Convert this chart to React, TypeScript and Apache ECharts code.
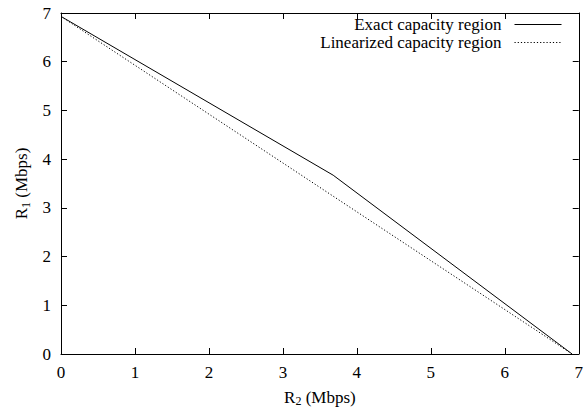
import React, { useEffect, useRef } from "react";
import * as echarts from "echarts";

const exactX = [0, 3.68, 6.91];
const exactY = [6.93, 3.67, 0];
const linX = [0, 6.91];
const linY = [6.93, 0];
const seriesNames = ["Exact capacity region", "Linearized capacity region"];

const FONT = "Liberation Serif";

export default function App() {
  const ref = useRef<HTMLDivElement>(null);
  useEffect(() => {
    const chart = echarts.init(ref.current!, null, { renderer: "svg" });
    const axisCommon = {
      type: "value",
      min: 0,
      max: 7,
      interval: 1,
      axisLine: { show: true, onZero: false, lineStyle: { color: "#000", width: 1 } },
      axisTick: { show: true, inside: true, length: 6, lineStyle: { color: "#000" } },
      splitLine: { show: false },
    };
    const rich = {
      n: { fontFamily: FONT, fontSize: 17, color: "#000", lineHeight: 20 },
      s: { fontFamily: FONT, fontSize: 12, color: "#000", lineHeight: 9, verticalAlign: "bottom" },
    };
    chart.setOption({
      animation: false,
      grid: { left: 61, right: 2, top: 13, bottom: 59, containLabel: false },
      legend: {
        orient: "vertical",
        right: 24,
        top: 16,
        padding: 0,
        align: "right",
        itemWidth: 47,
        itemHeight: 10,
        itemGap: 1,
        lineStyle: { width: 1 },
        itemStyle: { opacity: 0 },
        textStyle: { fontFamily: FONT, fontSize: 17, lineHeight: 17, color: "#000", padding: [0, 8, 0, 0] },
        data: seriesNames.map((n) => ({ name: n, itemStyle: { opacity: 0 } })),
      },
      xAxis: [
        {
          ...axisCommon,
          position: "bottom",
          axisLabel: { fontFamily: FONT, fontSize: 17, color: "#000", margin: 10 },
          name: "{n|R}{s|2}{n| (Mbps)}",
          nameLocation: "middle",
          nameGap: 33,
          nameTextStyle: { rich },
        },
        {
          ...axisCommon,
          position: "top",
          axisLabel: { show: false },
        },
      ],
      yAxis: [
        {
          ...axisCommon,
          position: "left",
          axisLabel: { fontFamily: FONT, fontSize: 17, color: "#000", margin: 10 },
          name: "{n|R}{s|1}{n| (Mbps)}",
          nameLocation: "middle",
          nameGap: 24,
          nameRotate: 90,
          nameTextStyle: { rich },
        },
        {
          ...axisCommon,
          position: "right",
          axisLabel: { show: false },
        },
      ],
      series: [
        {
          name: seriesNames[0],
          type: "line",
          data: exactX.map((x, i) => [x, exactY[i]]),
          showSymbol: false,
          symbol: "none",
          lineStyle: { color: "#000", width: 1, type: "solid" },
          itemStyle: { color: "#000" },
        },
        {
          name: seriesNames[1],
          type: "line",
          data: linX.map((x, i) => [x, linY[i]]),
          showSymbol: false,
          symbol: "none",
          lineStyle: { color: "#000", width: 1, type: [1.2, 2] },
          itemStyle: { color: "#000" },
        },
      ],
    });
    return () => chart.dispose();
  }, []);
  return <div ref={ref} style={{ width: 586, height: 413, position: "absolute", left: 0, top: 0 }} />;
}
